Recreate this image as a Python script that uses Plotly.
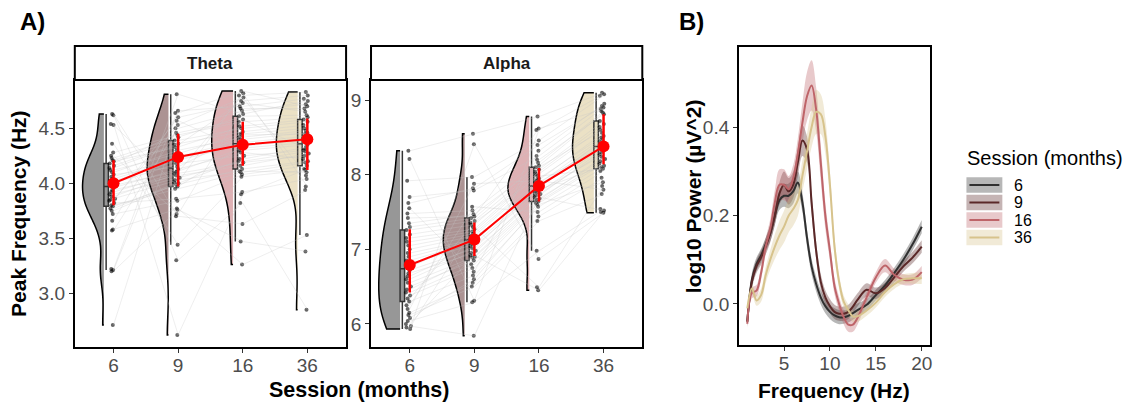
import plotly.graph_objects as go

W, H = 1136, 403
FONT = 'Liberation Sans, Arial, sans-serif'

sessions = ['6', '9', '16', '36']
line_cols = ['#303030', '#5A2828', '#BE6469', '#D7C38C']

# peak frequency per subject (same subject order in every session list)
theta_6 = [4.10, 3.84, 4.54, 3.22, 4.02, 3.90, 4.28, 3.66, 4.16, 2.71, 3.96, 4.20, 3.80, 4.63,
           3.75, 4.06, 3.58, 4.12, 3.88, 4.36, 3.21, 3.98, 4.23, 3.79, 4.04, 3.94, 4.62, 3.72,
           4.14, 3.86, 3.57, 4.21, 4.00, 3.82, 4.53, 3.20, 4.08, 3.92, 4.25, 3.77, 4.18, 3.85]
theta_9 = [4.30, 4.60, 2.62, 4.81, 4.21, 4.05, 4.44, 4.64, 4.36, 4.57, 4.13, 4.33, 3.95, 3.70,
           4.00, 4.24, 3.77, 4.27, 4.09, 3.44, 4.66, 4.11, 4.42, 3.99, 4.22, 4.07, 3.30, 3.84,
           4.35, 4.03, 4.50, 4.39, 4.18, 3.86, 3.97, 3.76, 4.15, 4.10, 3.72, 4.01, 4.46, 4.53]
theta_16 = [4.42, 4.73, 3.90, 4.63, 4.35, 4.20, 4.56, 4.84, 4.47, 4.30, 4.28, 4.52, 4.10, 3.63,
            4.22, 4.40, 3.26, 4.45, 4.19, 4.06, 4.70, 4.32, 4.61, 4.13, 4.37, 4.16, 3.82, 4.08,
            4.75, 4.11, 4.66, 4.50, 4.25, 3.92, 4.34, 3.47, 4.44, 4.80, 4.68, 4.82, 4.58, 4.78]
theta_36 = [4.48, 4.65, 4.13, 4.75, 4.41, 4.29, 4.60, 4.70, 4.53, 4.35, 4.22, 4.58, 4.19, 3.94,
            4.33, 4.46, 3.53, 4.50, 4.25, 4.12, 4.77, 4.37, 4.62, 4.20, 4.43, 4.27, 2.85, 4.16,
            4.80, 4.10, 4.72, 4.56, 4.30, 4.04, 4.39, 3.38, 4.45, 4.83, 4.68, 3.97, 4.31, 4.07]

alpha_6 = [6.90, 7.35, 6.25, 7.70, 6.68, 6.50, 7.10, 8.21, 6.80, 6.04, 6.60, 7.20, 6.38, 5.95,
           6.72, 7.00, 6.12, 7.05, 6.55, 6.15, 7.55, 6.85, 7.48, 6.46, 6.95, 6.64, 5.93, 6.30,
           7.62, 6.42, 7.92, 7.26, 6.76, 6.08, 7.15, 6.00, 7.30, 8.32, 7.42, 5.97, 6.34, 6.20]
alpha_9 = [7.12, 7.47, 7.57, 7.79, 6.95, 6.85, 7.24, 6.31, 7.07, 6.29, 6.98, 7.33, 6.75, 7.30,
           7.01, 7.18, 6.50, 7.21, 6.90, 6.55, 6.70, 7.10, 7.52, 6.89, 7.13, 7.04, 8.41, 6.65,
           7.82, 6.80, 7.97, 7.38, 7.16, 6.60, 7.27, 6.92, 7.42, 8.55, 7.44, 5.84, 7.36, 7.88]
alpha_16 = [7.86, 8.12, 7.50, 8.25, 7.76, 7.66, 8.01, 8.60, 7.82, 6.98, 7.72, 8.07, 7.62, 6.49,
            7.84, 7.93, 7.38, 7.95, 7.74, 7.44, 8.32, 7.90, 8.20, 7.68, 7.88, 7.78, 6.87, 7.57,
            8.40, 7.64, 8.46, 8.10, 7.80, 7.60, 8.04, 6.45, 8.16, 8.78, 8.62, 7.70, 7.98, 7.92]
alpha_36 = [8.45, 8.83, 8.05, 8.90, 8.37, 8.24, 8.64, 9.08, 8.48, 7.54, 8.34, 8.72, 8.15, 7.85,
            8.42, 8.56, 7.74, 8.52, 8.30, 7.96, 8.95, 8.39, 8.81, 8.21, 8.50, 8.27, 7.49, 8.10,
            8.92, 8.18, 9.06, 8.60, 8.12, 7.90, 8.68, 7.50, 8.85, 9.10, 8.88, 7.52, 8.08, 7.80]

theta_mean = [4.00, 4.24, 4.35, 4.40]
theta_hi = [4.21, 4.45, 4.56, 4.59]
theta_lo = [3.80, 3.97, 4.16, 4.12]
alpha_mean = [6.79, 7.13, 7.85, 8.38]
alpha_hi = [7.27, 7.36, 8.09, 8.81]
alpha_lo = [6.42, 6.91, 7.64, 8.14]

# power spectra
freq = [1, 1.5, 2, 2.5, 3, 3.5, 4, 4.5, 5, 5.5, 6, 6.5, 7, 7.5, 8, 8.5, 9, 9.5, 10, 10.5,
        11, 11.5, 12, 12.5, 13, 14, 15, 16, 17, 18, 19, 20]
power_6 = [-0.04, 0.055, 0.09, 0.11, 0.135, 0.16, 0.2, 0.235, 0.245, 0.245, 0.255, 0.275, 0.23,
           0.15, 0.085, 0.045, 0.015, -0.005, -0.018, -0.026, -0.03, -0.03, -0.027, -0.021,
           -0.014, -0.002, 0.02, 0.042, 0.07, 0.1, 0.135, 0.175]
power_9 = [-0.04, 0.05, 0.085, 0.105, 0.13, 0.16, 0.2, 0.25, 0.27, 0.255, 0.27, 0.32, 0.37,
           0.35, 0.23, 0.12, 0.05, 0.015, -0.005, -0.018, -0.022, -0.022, -0.018, -0.006,
           0.009, 0.032, 0.024, 0.036, 0.06, 0.085, 0.105, 0.13]
power_16 = [-0.045, 0.025, 0.03, 0.07, 0.13, 0.17, 0.23, 0.27, 0.27, 0.26, 0.285, 0.34, 0.41,
            0.47, 0.495, 0.44, 0.32, 0.2, 0.12, 0.04, 0.0, -0.03, -0.047, -0.047, -0.032,
            0.015, 0.06, 0.087, 0.066, 0.055, 0.055, 0.072]
power_36 = [-0.01, 0.035, 0.008, 0.02, 0.065, 0.1, 0.13, 0.155, 0.175, 0.2, 0.215, 0.235, 0.29,
            0.345, 0.4, 0.435, 0.43, 0.38, 0.27, 0.13, 0.05, 0.005, -0.014, -0.028, -0.028,
            -0.015, 0.003, 0.027, 0.045, 0.056, 0.058, 0.058]
se_6 = [0.01, 0.015, 0.015, 0.015, 0.015, 0.018, 0.02, 0.022, 0.025, 0.028, 0.028, 0.025, 0.022,
        0.02, 0.018, 0.017, 0.016, 0.016, 0.016, 0.016, 0.016, 0.015, 0.015, 0.015, 0.015,
        0.013, 0.012, 0.012, 0.012, 0.013, 0.014, 0.015]
se_9 = [0.01, 0.015, 0.015, 0.016, 0.018, 0.02, 0.022, 0.025, 0.03, 0.03, 0.03, 0.032, 0.035,
        0.03, 0.025, 0.02, 0.018, 0.016, 0.016, 0.016, 0.016, 0.016, 0.016, 0.016, 0.015,
        0.015, 0.013, 0.012, 0.012, 0.012, 0.013, 0.014]
se_16 = [0.01, 0.012, 0.013, 0.015, 0.018, 0.022, 0.028, 0.035, 0.035, 0.03, 0.03, 0.035, 0.045,
         0.055, 0.057, 0.05, 0.04, 0.03, 0.022, 0.018, 0.016, 0.016, 0.016, 0.016, 0.015,
         0.012, 0.012, 0.015, 0.014, 0.012, 0.012, 0.014]
se_36 = [0.01, 0.012, 0.012, 0.015, 0.018, 0.022, 0.028, 0.033, 0.036, 0.038, 0.038, 0.036, 0.035,
         0.04, 0.045, 0.05, 0.045, 0.04, 0.03, 0.022, 0.016, 0.014, 0.013, 0.013, 0.013,
         0.012, 0.011, 0.011, 0.011, 0.011, 0.012, 0.013]


def rgba(hex_col, a):
    h = hex_col.lstrip('#')
    r, g, b = int(h[0:2], 16), int(h[2:4], 16), int(h[4:6], 16)
    return f'rgba({r},{g},{b},{a})'


def px_x(x):
    return x / W


def px_y(y):
    return 1 - y / H


def add_raincloud(fig, groups, mean, hi, lo, xa, ya):
    # grey lines joining each subject across sessions
    xs, ys = [], []
    for i in range(len(groups[0])):
        for k in range(len(groups)):
            xs.append(k)
            ys.append(groups[k][i])
        xs.append(None)
        ys.append(None)
    fig.add_trace(go.Scatter(x=xs, y=ys, mode='lines', hoverinfo='skip',
                             line=dict(color='rgba(200,200,200,0.3)', width=1),
                             xaxis=xa, yaxis=ya))
    for k, vals in enumerate(groups):
        fig.add_trace(go.Violin(x0=k - 0.15, y=vals, side='negative', width=0.66, spanmode='hard',
                                fillcolor=rgba(line_cols[k], 0.5), opacity=1,
                                line=dict(color='black', width=1.5), points=False,
                                box_visible=False, meanline_visible=False,
                                xaxis=xa, yaxis=ya))
        fig.add_trace(go.Box(x0=k - 0.115, y=vals, width=0.07, boxpoints='outliers',
                             marker=dict(opacity=0), fillcolor=rgba(line_cols[k], 0.5),
                             line=dict(color='#333333', width=1.5), whiskerwidth=0,
                             xaxis=xa, yaxis=ya))
        fig.add_trace(go.Box(x0=k - 0.02, y=vals, width=0.1, boxpoints='all', jitter=1,
                             pointpos=0, fillcolor='rgba(0,0,0,0)',
                             line=dict(color='rgba(0,0,0,0)', width=0),
                             marker=dict(color='rgba(0,0,0,0.6)', size=4),
                             xaxis=xa, yaxis=ya))
    fig.add_trace(go.Scatter(x=list(range(4)), y=mean, mode='lines+markers',
                             line=dict(color='red', width=2),
                             marker=dict(color='red', size=12),
                             error_y=dict(type='data', symmetric=False,
                                          array=[h - m for h, m in zip(hi, mean)],
                                          arrayminus=[m - l for m, l in zip(mean, lo)],
                                          color='red', thickness=2.5, width=0),
                             xaxis=xa, yaxis=ya))


fig = go.Figure()
add_raincloud(fig, [theta_6, theta_9, theta_16, theta_36], theta_mean, theta_hi, theta_lo, 'x', 'y')
add_raincloud(fig, [alpha_6, alpha_9, alpha_16, alpha_36], alpha_mean, alpha_hi, alpha_lo, 'x2', 'y2')

powers = [power_6, power_9, power_16, power_36]
ses = [se_6, se_9, se_16, se_36]
for k in range(4):
    lower = [p - s for p, s in zip(powers[k], ses[k])]
    upper = [p + s for p, s in zip(powers[k], ses[k])]
    fig.add_trace(go.Scatter(x=freq, y=lower, mode='lines', line=dict(width=0, shape='spline'),
                             hoverinfo='skip', xaxis='x3', yaxis='y3'))
    fig.add_trace(go.Scatter(x=freq, y=upper, mode='lines', line=dict(width=0, shape='spline'),
                             fill='tonexty', fillcolor=rgba(line_cols[k], 0.35),
                             hoverinfo='skip', xaxis='x3', yaxis='y3'))
for k in range(4):
    fig.add_trace(go.Scatter(x=freq, y=powers[k], mode='lines', name=sessions[k],
                             line=dict(color=line_cols[k], width=2, shape='spline'),
                             xaxis='x3', yaxis='y3'))

axis_common = dict(showline=True, mirror=True, linecolor='black', linewidth=2, ticks='outside',
                   ticklen=4, tickcolor='#333333', tickwidth=1, showgrid=False, zeroline=False,
                   tickfont=dict(family=FONT, size=19, color='#4D4D4D'))
cat_x = dict(range=[-0.6, 3.6], tickvals=[0, 1, 2, 3], ticktext=sessions,
             ticklabelstandoff=-4, **axis_common)

fig.update_layout(
    width=W, height=H, margin=dict(l=0, r=0, t=0, b=0),
    plot_bgcolor='white', paper_bgcolor='white', showlegend=False,
    violinmode='overlay', boxmode='overlay',
    xaxis=dict(domain=[px_x(75), px_x(347)], anchor='y', **cat_x),
    yaxis=dict(domain=[px_y(347), px_y(80)], anchor='x', range=[2.51, 4.94],
               tickvals=[3.0, 3.5, 4.0, 4.5], tickformat='.1f', **axis_common),
    xaxis2=dict(domain=[px_x(372), px_x(644)], anchor='y2', **cat_x),
    yaxis2=dict(domain=[px_y(347), px_y(80)], anchor='x2', range=[5.69, 9.27],
                tickvals=[6, 7, 8, 9], **axis_common),
    xaxis3=dict(domain=[px_x(741), px_x(932)], anchor='y3', range=[0.1, 20.85],
                tickvals=[5, 10, 15, 20], ticklabelstandoff=-4, **axis_common),
    yaxis3=dict(domain=[px_y(345), px_y(47)], anchor='x3', range=[-0.093, 0.582],
                tickvals=[0, 0.2, 0.4], tickformat='.1f', **axis_common),
)

shapes = []
annotations = []
# facet strips
for x0, x1, label in [(75, 347, 'Theta'), (372, 644, 'Alpha')]:
    shapes.append(dict(type='rect', xref='paper', yref='paper', x0=px_x(x0), x1=px_x(x1),
                       y0=px_y(80), y1=px_y(46), line=dict(color='black', width=2),
                       fillcolor='white', layer='above'))
    annotations.append(dict(text=f'<b>{label}</b>', xref='paper', yref='paper',
                            x=px_x((x0 + x1) / 2), y=px_y(63), showarrow=False,
                            xanchor='center', yanchor='middle',
                            font=dict(family=FONT, size=17, color='#1A1A1A')))

titles = [
    ('<b>A)</b>', 33, 22, 0, 24),
    ('<b>B)</b>', 693, 22, 0, 24),
    ('<b>Peak Frequency (Hz)</b>', 18, 213, -90, 21),
    ('<b>Session (months)</b>', 360, 390, 0, 21.5),
    ('<b>log10 Power (µV^2)</b>', 696, 196, -90, 21),
    ('<b>Frequency (Hz)</b>', 836, 390, 0, 21),
]
for text, x, y, ang, size in titles:
    annotations.append(dict(text=text, xref='paper', yref='paper', x=px_x(x), y=px_y(y),
                            showarrow=False, textangle=ang, xanchor='center', yanchor='middle',
                            borderpad=0, font=dict(family=FONT, size=size, color='black')))

# legend for panel B
annotations.append(dict(text='Session (months)', xref='paper', yref='paper', x=px_x(968),
                        y=px_y(158), xanchor='left', yanchor='middle', showarrow=False,
                        font=dict(family=FONT, size=20, color='black')))
for k in range(4):
    cy = 185 + 17.5 * k
    shapes.append(dict(type='rect', xref='paper', yref='paper', x0=px_x(969), x1=px_x(1005),
                       y0=px_y(cy + 7.8), y1=px_y(cy - 7.8), line=dict(width=0),
                       fillcolor=rgba(line_cols[k], 0.35)))
    shapes.append(dict(type='line', xref='paper', yref='paper', x0=px_x(972), x1=px_x(1002),
                       y0=px_y(cy), y1=px_y(cy), line=dict(color=line_cols[k], width=2)))
    annotations.append(dict(text=sessions[k], xref='paper', yref='paper', x=px_x(1016),
                            y=px_y(cy), xanchor='left', yanchor='middle', showarrow=False,
                            borderpad=0, font=dict(family=FONT, size=16, color='black')))

fig.update_layout(shapes=shapes, annotations=annotations)
fig.write_html('out.html', config={'displayModeBar': False},
               post_script="document.body.style.margin='0';")
